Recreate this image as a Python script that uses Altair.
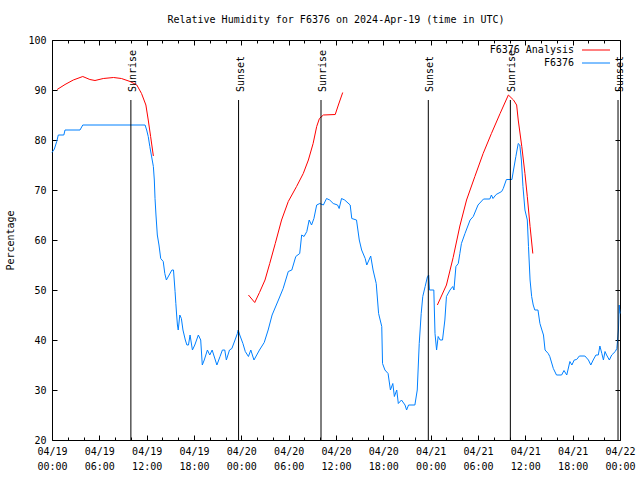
import json
import altair as alt
import pandas as pd

TITLE = "Relative Humidity for F6376 on 2024-Apr-19 (time in UTC)"
Y_TITLE = "Percentage"
SERIES = ["F6376 Analysis", "F6376"]
COLORS = ["#ff0000", "#0080ff"]
FONT = "DejaVu Sans Mono"

# hours since 2024-04-19 00:00 UTC, relative humidity (%)
OBSERVED = [
    (0.0, 77.5), (0.3, 78.2), (0.6, 79.7), (0.8, 81), (1.5, 81), (1.65, 82), (3.55, 82), (3.9, 83),
    (11.8, 83), (12.0, 82), (12.2, 80.7), (12.4, 78.7), (12.85, 74.7), (12.97, 72), (13.06, 68.3),
    (13.18, 65), (13.35, 61), (13.56, 59), (13.78, 56.3), (14.1, 55.7), (14.3, 53.3), (14.5, 52),
    (15.2, 54), (15.4, 54), (15.6, 49.7), (15.7, 47.3), (15.8, 45), (15.9, 43), (16.0, 42), (16.2, 45),
    (16.4, 44.3), (16.6, 42), (16.9, 40), (17.1, 39), (17.3, 39), (17.5, 41), (17.7, 39), (17.8, 38),
    (18.1, 39), (18.55, 41), (18.85, 40), (19.05, 35), (19.3, 36), (19.7, 38), (20.0, 37), (20.3, 38),
    (20.5, 37), (20.9, 35), (21.3, 36.7), (21.6, 38), (21.9, 38), (22.1, 36), (22.5, 38), (22.8, 38.3),
    (23.2, 40), (23.5, 41.3), (23.6, 42), (23.8, 41), (24.2, 39.3), (24.5, 37.7), (24.9, 36.7),
    (25.2, 38), (25.6, 36), (26.3, 38), (26.9, 39.5), (27.4, 42), (27.9, 45), (28.7, 48), (29.3, 50.3),
    (29.95, 53.7), (30.4, 54), (30.9, 56.7), (31.4, 57.3), (31.65, 61), (31.95, 60.7), (32.3, 61.7),
    (32.6, 64), (32.9, 63), (33.2, 64.3), (33.55, 67), (33.95, 67.3), (34.4, 67), (34.8, 68.3),
    (35.2, 68), (35.65, 67.3), (36.2, 67), (36.4, 66.3), (36.7, 68.3), (37.1, 68), (37.8, 67),
    (38.0, 64.3), (38.6, 64), (38.95, 60), (39.25, 58), (39.7, 56.3), (39.9, 55), (40.4, 56.8),
    (40.7, 54), (41.1, 51.3), (41.4, 45.3), (41.8, 42.7), (41.9, 35.3), (42.2, 34), (42.6, 33.3),
    (42.9, 30), (43.2, 31.3), (43.4, 28.7), (43.7, 30), (43.9, 27.3), (44.3, 28), (44.75, 27),
    (44.95, 26), (45.2, 27), (46.0, 27), (46.3, 30), (46.55, 39.3), (46.8, 45.3), (47.0, 48.7),
    (47.3, 50.7), (47.6, 52.7), (47.75, 53), (47.85, 50), (48.4, 50), (48.55, 41.3), (48.75, 38),
    (48.95, 40.7), (49.2, 40), (49.5, 40), (49.8, 44), (50.0, 48.7), (50.45, 50), (50.8, 50.7),
    (50.95, 50), (51.2, 54.7), (51.5, 55.3), (51.7, 57.3), (51.9, 59.3), (52.35, 61.3), (53.0, 64),
    (53.4, 64.7), (54.0, 67), (54.7, 68.2), (55.5, 68.2), (55.7, 69), (55.9, 68.3), (56.3, 69.1),
    (57.0, 69.7), (57.2, 70.3), (57.6, 72.1), (58.3, 72.1), (58.5, 74), (58.8, 76.7), (59.1, 79.3),
    (59.3, 79), (59.5, 76), (59.7, 70.7), (59.95, 66), (60.25, 64), (60.4, 58.7), (60.6, 52),
    (60.8, 48.7), (61.0, 47), (61.2, 46), (61.6, 46), (61.85, 43.3), (62.1, 42), (62.3, 41),
    (62.5, 38), (62.9, 37.3), (63.1, 36.7), (63.55, 34.3), (63.95, 33), (64.6, 33), (64.9, 33.9),
    (65.25, 33), (65.65, 35.7), (65.9, 35), (66.2, 36), (66.5, 36.1), (66.85, 36.8), (67.55, 36.8),
    (68.0, 36), (68.3, 35), (68.6, 36), (68.95, 37), (69.25, 37), (69.45, 38.8), (69.7, 37.3),
    (69.9, 36), (70.1, 37.7), (70.3, 37), (70.65, 36), (70.95, 37), (71.4, 37.7), (71.6, 38.3),
    (71.8, 42), (71.9, 47), (72.0, 45.3),
]

ANALYSIS_1 = [
    (0.65, 90.1), (1.65, 91.1), (2.7, 92.0), (3.9, 92.7), (4.8, 92.1), (5.45, 91.9), (6.5, 92.3),
    (7.8, 92.5), (8.8, 92.3), (9.9, 91.7), (10.75, 91.0), (11.35, 89.3), (11.9, 87.0), (12.2, 84.0),
    (12.5, 80.7), (12.85, 76.8),
]
ANALYSIS_2 = [
    (24.9, 49.0), (25.7, 47.5), (26.3, 49.5), (27.0, 52.0), (27.6, 55.3), (28.3, 59.3), (29.1, 64.0),
    (29.95, 67.7), (31.0, 70.7), (31.85, 73.3), (32.5, 76.0), (33.1, 79.3), (33.55, 82.7),
    (33.9, 84.3), (34.4, 85.0), (35.9, 85.1), (36.3, 87.0), (36.85, 89.5),
]
ANALYSIS_3 = [
    (48.85, 47.0), (50.0, 51.0), (50.85, 56.5), (51.7, 62.8), (52.55, 68.0), (53.6, 72.7),
    (54.65, 77.3), (55.7, 81.3), (56.8, 85.3), (57.85, 89.0), (58.5, 88.0), (58.9, 87.0),
    (59.1, 84.0), (59.55, 78.7), (59.95, 73.3), (60.25, 68.7), (60.6, 62.7), (60.95, 57.3),
]

SUN_HOURS = [10.0, 23.65, 34.1, 47.7, 58.1, 71.75]
SUN_LABELS = ["Sunrise", "Sunset", "Sunrise", "Sunset", "Sunrise", "Sunset"]

X_TICKS = [0, 6, 12, 18, 24, 30, 36, 42, 48, 54, 60, 66, 72]
X_TICK_LABELS = [
    "04/19 00:00", "04/19 06:00", "04/19 12:00", "04/19 18:00",
    "04/20 00:00", "04/20 06:00", "04/20 12:00", "04/20 18:00",
    "04/21 00:00", "04/21 06:00", "04/21 12:00", "04/21 18:00",
    "04/22 00:00",
]
X_MINOR = [2, 4, 8, 10, 14, 16, 20, 22, 26, 28, 32, 34, 38, 40, 44, 46, 50, 52, 56, 58, 62, 64, 68, 70]
Y_TICKS = [20, 30, 40, 50, 60, 70, 80, 90, 100]

obs_df = pd.DataFrame({"hour": [h for h, _ in OBSERVED], "value": [v for _, v in OBSERVED],
                       "series": SERIES[1], "segment": 0})
ana_rows = []
for i, seg in enumerate([ANALYSIS_1, ANALYSIS_2, ANALYSIS_3]):
    for h, v in seg:
        ana_rows.append({"hour": h, "value": v, "series": SERIES[0], "segment": i})
ana_df = pd.DataFrame(ana_rows)
sun_df = pd.DataFrame({"hour": SUN_HOURS, "label": SUN_LABELS})

x_scale = alt.Scale(domain=[0, 72], nice=False, zero=False)
y_scale = alt.Scale(domain=[20, 100], nice=False, zero=False)
color_scale = alt.Scale(domain=SERIES, range=COLORS)

label_expr = "split(" + json.dumps(X_TICK_LABELS) + "[round(datum.value / 6)], ' ')"


def x_axis(orient, values, size, labels):
    kw = dict(orient=orient, values=values, tickSize=size, offset=-size, domain=False, grid=False,
              ticks=True, tickColor="black", tickWidth=1, title=None, labels=labels)
    if labels:
        kw.update(labelExpr=label_expr, labelFont=FONT, labelFontSize=10, labelColor="black",
                  labelPadding=6, labelLineHeight=15, labelBaseline="top", labelAlign="center",
                  labelFlush=False, labelOverlap=False, labelBound=False)
    return alt.Axis(**kw)


y_left = alt.Axis(orient="left", values=Y_TICKS, tickSize=5, offset=-5, domain=False, grid=False,
                  tickColor="black", labelFont=FONT, labelFontSize=10, labelColor="black",
                  labelPadding=6, labelAlign="right", labelBaseline="middle", title=Y_TITLE,
                  titleFont=FONT, titleFontSize=10, titleFontWeight="normal", titleColor="black",
                  titlePadding=12)
y_right = alt.Axis(orient="right", values=Y_TICKS, tickSize=5, offset=-5, domain=False, grid=False,
                   tickColor="black", labels=False, title=None)

red = alt.Chart(ana_df).mark_line(strokeWidth=1).encode(
    x=alt.X("hour:Q", scale=x_scale, axis=x_axis("top", X_TICKS, 5, False)),
    y=alt.Y("value:Q", scale=y_scale, axis=y_right),
    color=alt.Color("series:N", scale=color_scale, legend=None),
    detail="segment:N",
)
blue = alt.Chart(obs_df).mark_line(strokeWidth=1).encode(
    x=alt.X("hour:Q", scale=x_scale, axis=x_axis("bottom", X_TICKS, 5, True)),
    y=alt.Y("value:Q", scale=y_scale, axis=y_left),
    color=alt.Color("series:N", scale=color_scale, legend=None),
)
rules = alt.Chart(sun_df).mark_rule(color="black", strokeWidth=1).encode(
    x=alt.X("hour:Q", scale=x_scale, axis=x_axis("bottom", X_MINOR, 3, False)),
    y=alt.value(60),
    y2=alt.value(400),
)
texts = alt.Chart(sun_df).mark_text(angle=270, align="left", baseline="middle", font=FONT,
                                     fontSize=10, color="black", dy=2).encode(
    x=alt.X("hour:Q", scale=x_scale, axis=x_axis("top", X_MINOR, 3, False)),
    y=alt.value(52),
    text="label:N",
)

# key (gnuplot style: label, then line sample to its right)
key_layers = []
for i, (name, col) in enumerate(zip(SERIES, COLORS)):
    ky = 10 + 13 * i
    key_df = pd.DataFrame({"name": [name]})
    key_layers.append(
        alt.Chart(key_df).mark_text(align="right", baseline="middle", font=FONT, fontSize=10,
                                    color="black").encode(
            x=alt.value(522), y=alt.value(ky), text="name:N")
    )
    key_layers.append(
        alt.Chart(key_df).mark_rule(color=col, strokeWidth=1).encode(
            x=alt.value(530), x2=alt.value(558), y=alt.value(ky))
    )

chart = alt.layer(red, blue, rules, texts, *key_layers).resolve_axis(
    x="independent", y="independent"
).properties(
    width=568,
    height=400,
    padding={"left": 52, "top": 40, "right": 20, "bottom": 40},
    autosize=alt.AutoSizeParams(type="none"),
    title=alt.TitleParams(TITLE, font=FONT, fontSize=10, fontWeight="normal", color="black",
                          anchor="middle", offset=10),
    background="white",
).configure_view(stroke="black", strokeWidth=1)

chart.save("out.html", embed_options={"renderer": "svg", "actions": False})
